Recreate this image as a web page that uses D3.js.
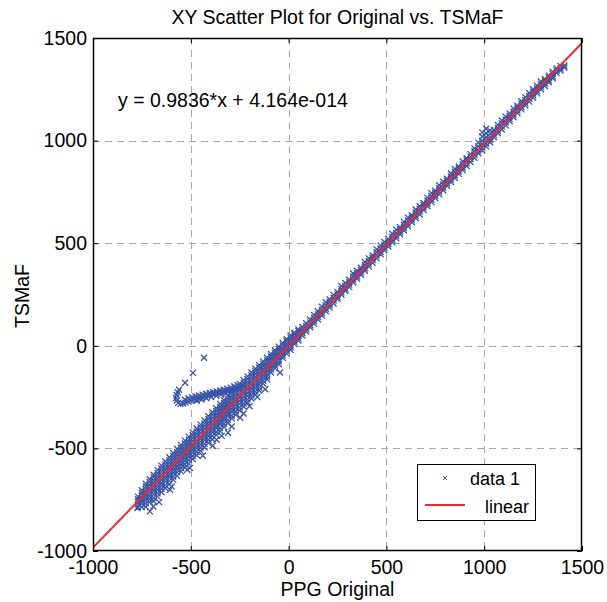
<!DOCTYPE html>
<html>
<head>
<meta charset="utf-8">
<script src="https://cdn.jsdelivr.net/npm/d3@7"></script>
<style>
  html, body { margin: 0; padding: 0; background: #ffffff; }
  text { font-family: "Liberation Sans", Arial, Helvetica, sans-serif; fill: #000; }
</style>
</head>
<body>
<svg id="chart" width="607" height="602"></svg>
<script>
// ---------------- data ----------------
const titleText = "XY Scatter Plot for Original vs. TSMaF";
const xLabel = "PPG Original";
const yLabel = "TSMaF";
const equationText = "y = 0.9836*x + 4.164e-014";
const xTicks = [-1000, -500, 0, 500, 1000, 1500];
const yTicks = [-1000, -500, 0, 500, 1000, 1500];
const legendLabels = ["data 1", "linear"];

// linear fit end points
const fitX = [-1000, 1500];
const fitY = [-983.6, 1475.4];

// dense lower band: x positions and the y values seen at each
const lowerX = [-770,-750,-730,-710,-690,-670,-650,-630,-610,-590,-570,-550,-530,-510,-490,-470,-450,-430,-410,-390,-370,-350,-330,-310,-290,-270,-250,-230,-210,-190,-170,-150,-130,-110,-90,-70,-50,-30,-10,10,30,50];
const lowerY = [
  [-735,-748,-760,-772,-786],
  [-704,-717,-731,-744,-756,-770,-786],
  [-672,-686,-700,-713,-727,-740,-752,-768,-784],
  [-650,-664,-678,-692,-705,-719,-733,-748,-762],
  [-628,-640,-655,-668,-683,-696,-709,-724,-741,-756],
  [-606,-621,-634,-648,-662,-676,-690,-703,-719,-735],
  [-584,-598,-612,-627,-640,-653,-667,-681,-697,-714],
  [-564,-578,-593,-606,-620,-634,-647,-662,-680,-694],
  [-543,-557,-571,-586,-600,-613,-627,-641,-657,-674],
  [-522,-536,-550,-565,-579,-593,-606,-620,-637,-652],
  [-503,-518,-531,-545,-560,-573,-587,-601,-617,-634],
  [-483,-497,-511,-525,-539,-553,-567,-581,-596,-612],
  [-462,-476,-490,-505,-519,-533,-547,-561,-578,-593],
  [-444,-458,-471,-485,-499,-513,-526,-541,-557,-574],
  [-422,-436,-450,-464,-478,-492,-506,-520,-537,-552],
  [-403,-417,-431,-445,-459,-472,-486,-500,-516,-533],
  [-384,-398,-411,-425,-439,-453,-467,-481,-497,-512],
  [-364,-378,-392,-406,-420,-434,-447,-461,-478,-494],
  [-343,-357,-371,-385,-399,-413,-427,-441,-458,-473],
  [-324,-338,-352,-366,-380,-394,-408,-422,-439,-455],
  [-304,-318,-332,-346,-360,-374,-388,-402,-420,-434],
  [-284,-298,-312,-326,-340,-354,-368,-382,-400,-415],
  [-265,-279,-293,-307,-321,-335,-349,-363,-380,-396],
  [-245,-259,-273,-287,-301,-315,-329,-343,-361,-376],
  [-224,-238,-252,-266,-280,-294,-308,-322,-341,-355],
  [-206,-220,-233,-247,-261,-275,-289,-303,-320,-336],
  [-186,-200,-213,-227,-241,-255,-269,-283,-300,-315],
  [-168,-181,-194,-208,-222,-236,-250,-264,-281,-296],
  [-149,-162,-175,-189,-203,-217,-231,-245,-262,-276],
  [-130,-143,-156,-170,-184,-198,-212,-226,-242,-257],
  [-112,-124,-137,-151,-165,-179,-193,-207,-223,-238],
  [-94,-106,-119,-133,-147,-161,-175,-189,-204,-218],
  [-76,-88,-100,-114,-127,-141,-155,-169,-184],
  [-58,-70,-82,-95,-108,-122,-136,-150,-163],
  [-40,-52,-64,-77,-90,-103,-116,-130],
  [-22,-34,-46,-58,-71,-84,-97,-110],
  [-4,-16,-28,-40,-52,-64,-77,-90],
  [14,2,-10,-22,-34,-46,-58],
  [32,22,10,-2,-14,-26,-38],
  [50,40,28,16,4,-8,-20],
  [64,56,44,32,20,8],
  [80,72,60,48,36,26]
];

// narrower upper band
const upperX = [70,90,110,130,150,170,190,210,230,250,270,290,310,330,350,370,390,410,430,450,470,490,510,530,550,570,590,610,630,650,670,690,710,730,750,770,790,810,830,850,870,890,910,930,950,970,990,1010,1030,1050,1070,1090,1110,1130,1150,1170,1190,1210,1230,1250,1270,1290,1310,1330,1350,1370,1390,1410];
const upperY = [
  [92,78,62,50],[110,96,82,70],[128,114,100,90],[150,136,120,108],[168,154,140,128],
  [190,175,160,148],[212,196,180,168],[226,214,200,188],[248,234,220,206],[262,250,238,228],
  [290,276,260,248],[306,292,278,268],[322,310,298,286],[352,338,322,310],[366,352,338,326],
  [380,370,358,346],[408,394,378,366],[426,412,398,386],[440,430,418,404],[470,456,440,426],
  [488,474,458,446],[506,492,478,466],[520,508,496,484],[546,532,516,504],[566,550,536,524],
  [578,568,556,544],[604,590,574,562],[624,610,594,582],[636,626,614,602],[664,650,634,622],
  [680,668,654,640],[696,686,674,662],[722,708,692,680],[744,730,712,700],[756,746,732,720],
  [782,768,750,738],[800,786,770,758],[814,804,792,780],[840,826,810,798],[862,848,830,818],
  [874,864,850,838],[898,884,868,856],[914,904,890,876],[934,922,910,896],[962,948,930,916],
  [990,972,952,938],[1040,1020,1000,984,966,952],[1058,1036,1016,1000,986,972],[1050,1034,1018,1004,992],[1052,1040,1028,1016],
  [1076,1062,1048,1036],[1098,1084,1068,1054],[1116,1102,1088,1074],[1132,1120,1106,1094],[1156,1142,1126,1114],
  [1170,1160,1146,1134],[1192,1180,1164,1152],[1212,1198,1184,1172],[1232,1218,1204,1190],[1250,1238,1222,1210],
  [1268,1256,1242,1230],[1288,1276,1262,1250],[1300,1290,1278,1266],[1316,1306,1294,1284],[1336,1326,1314,1304],
  [1352,1342,1330],[1364,1352,1342],[1366,1356]
];

// the hook that leaves the band near (-230,-190)
const hookX = [-432,-489,-529,-560,-567,-572,-575,-572,-565,-553,-540,-527,-514,-500,-486,-472,-458,-444,-430,-416,-402,-388,-374,-360,-346,-332,-318,-304,-290,-276,-262,-248,-234,
  -530,-512,-494,-476,-458,-440,-422,-404,-386,-368,-350,-332,-314,-296,-278,-260,
  -470,-445,-420,-395,-370,-345,-320];
const hookY = [-58,-132,-180,-214,-226,-240,-254,-267,-278,-283,-281,-277,-272,-267,-262,-258,-254,-250,-246,-242,-238,-235,-232,-229,-226,-223,-220,-217,-214,-210,-205,-200,-194,
  -262,-256,-250,-246,-242,-238,-234,-230,-226,-222,-218,-214,-209,-204,-198,-192,
  -268,-262,-256,-250,-244,-238,-232];

// scattered points below the band
const outX = [-773,-709,-692,-662,-606,-598,-518,-504,-439,-388,-368,-342,-310,-291,-248,-44,-230,-200,-160,-120];
const outY = [-791,-807,-783,-762,-702,-686,-604,-595,-536,-487,-458,-439,-424,-393,-351,-130,-330,-295,-250,-212];

// ---------------- drawing ----------------
const svg = d3.select("#chart");
const W = 607, H = 602;
const mLeft = 93, mRight = 582, mTop = 38, mBottom = 551;
const x = d3.scaleLinear().domain([-1000, 1500]).range([mLeft, mRight]);
const y = d3.scaleLinear().domain([-1000, 1500]).range([mBottom, mTop]);
const FONT = 19.5;
const BLUE = "#3953a6";
const RED = "#ee2a2f";

svg.append("rect").attr("width", W).attr("height", H).attr("fill", "#fff");

// grid
const grid = svg.append("g").attr("stroke", "#a8a8a8").attr("stroke-width", 1).attr("stroke-dasharray", "7,5");
grid.selectAll("line.gx").data(xTicks.slice(1, -1)).enter().append("line")
  .attr("x1", d => Math.round(x(d)) + 0.5).attr("x2", d => Math.round(x(d)) + 0.5)
  .attr("y1", mTop).attr("y2", mBottom);
grid.selectAll("line.gy").data(yTicks.slice(1, -1)).enter().append("line")
  .attr("y1", d => Math.round(y(d)) + 0.5).attr("y2", d => Math.round(y(d)) + 0.5)
  .attr("x1", mLeft).attr("x2", mRight);

// points
const pts = [];
lowerX.forEach((xv, i) => lowerY[i].forEach(yv => pts.push([xv, yv])));
upperX.forEach((xv, i) => upperY[i].forEach(yv => pts.push([xv, yv])));
hookX.forEach((xv, i) => pts.push([xv, hookY[i]]));
outX.forEach((xv, i) => pts.push([xv, outY[i]]));

svg.append("clipPath").attr("id", "plotclip").append("rect")
  .attr("x", mLeft).attr("y", mTop).attr("width", mRight - mLeft).attr("height", mBottom - mTop);

const m = 3;
const xMark = `M${-m},${-m}L${m},${m}M${-m},${m}L${m},${-m}`;
svg.append("g").attr("clip-path", "url(#plotclip)")
  .selectAll("path").data(pts).enter().append("path")
  .attr("d", xMark)
  .attr("transform", d => `translate(${x(d[0])},${y(d[1])})`)
  .attr("fill", "none").attr("stroke", BLUE).attr("stroke-width", 1.3);

// fit line
svg.append("g").attr("clip-path", "url(#plotclip)")
  .append("path")
  .datum(fitX.map((v, i) => [v, fitY[i]]))
  .attr("d", d3.line().x(d => x(d[0])).y(d => y(d[1])))
  .attr("fill", "none").attr("stroke", RED).attr("stroke-width", 2);

// axes
const fmt = d => String(d);
const styleAxis = g => {
  g.select(".domain").remove();
  g.selectAll(".tick line").attr("stroke", "#000");
  g.selectAll("text").style("font-size", FONT + "px")
    .style("font-family", "'Liberation Sans', Arial, Helvetica, sans-serif").attr("fill", "#000");
};
svg.append("g").attr("transform", `translate(0,${mBottom})`)
  .call(d3.axisBottom(x).tickValues(xTicks).tickFormat(fmt).tickSize(-5).tickPadding(9))
  .call(styleAxis);
svg.append("g").attr("transform", `translate(${mLeft},0)`)
  .call(d3.axisLeft(y).tickValues(yTicks).tickFormat(fmt).tickSize(-5).tickPadding(6))
  .call(styleAxis);
svg.append("g").attr("transform", `translate(0,${mTop})`)
  .call(d3.axisTop(x).tickValues(xTicks).tickFormat("").tickSize(-5))
  .call(styleAxis);
svg.append("g").attr("transform", `translate(${mRight},0)`)
  .call(d3.axisRight(y).tickValues(yTicks).tickFormat("").tickSize(-5))
  .call(styleAxis);

// box
svg.append("rect").attr("x", mLeft + 0.5).attr("y", mTop + 0.5)
  .attr("width", mRight - mLeft - 1).attr("height", mBottom - mTop - 1)
  .attr("fill", "none").attr("stroke", "#000").attr("stroke-width", 1.5);

// title and labels
svg.append("text").attr("x", (mLeft + mRight) / 2).attr("y", 24).attr("text-anchor", "middle")
  .style("font-size", FONT + "px").text(titleText);
svg.append("text").attr("x", (mLeft + mRight) / 2).attr("y", 596).attr("text-anchor", "middle")
  .style("font-size", FONT + "px").text(xLabel);
svg.append("text").attr("transform", "translate(29,296) rotate(-90)").attr("text-anchor", "middle")
  .style("font-size", FONT + "px").text(yLabel);

// equation
svg.append("text").attr("x", 118).attr("y", 107).style("font-size", FONT + "px").text(equationText);

// legend
const lg = svg.append("g");
lg.append("rect").attr("x", 417.5).attr("y", 464.5).attr("width", 118).attr("height", 56)
  .attr("fill", "#fff").attr("stroke", "#000").attr("stroke-width", 1);
lg.append("path").attr("d", "M-2,-2L2,2M-2,2L2,-2").attr("transform", "translate(445,478)")
  .attr("stroke", BLUE).attr("stroke-width", 1).attr("fill", "none");
lg.append("text").attr("x", 470).attr("y", 485).style("font-size", "18px").text(legendLabels[0]);
lg.append("line").attr("x1", 425).attr("x2", 465).attr("y1", 505).attr("y2", 505)
  .attr("stroke", RED).attr("stroke-width", 2);
lg.append("text").attr("x", 485).attr("y", 513).style("font-size", "18px").text(legendLabels[1]);
</script>
</body>
</html>
